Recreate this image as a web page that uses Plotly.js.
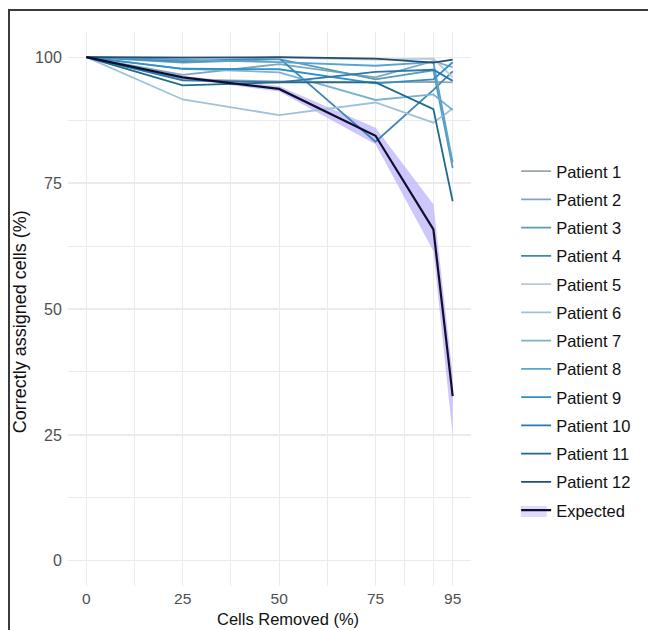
<!DOCTYPE html>
<html>
<head>
<meta charset="utf-8">
<script src="https://cdn.plot.ly/plotly-3.0.1.min.js"></script>
<style>
  html, body { margin: 0; padding: 0; background: #fff; }
  #wrap { position: relative; width: 648px; height: 630px; overflow: hidden; }
  #chart { width: 648px; height: 630px; }
  #frame { position: absolute; left: 8px; top: 9px; width: 700px; height: 700px;
           border-left: 2px solid #3a3a3a; border-top: 2px solid #3a3a3a; pointer-events: none; }
</style>
</head>
<body>
<div id="wrap"><div id="chart"></div><div id="frame"></div></div>
<script>
// ---- data ----
const removed = [0, 25, 50, 75, 90, 95];
const xTickVals = [0, 25, 50, 75, 95];
const yTickVals = [0, 25, 50, 75, 100];
const patientNames = ["Patient 1","Patient 2","Patient 3","Patient 4","Patient 5","Patient 6",
                      "Patient 7","Patient 8","Patient 9","Patient 10","Patient 11","Patient 12"];
const p1  = [100, 95.6, 95.2, 95.0, 95.1, 95.0];
const p2  = [100, 96.5, 98.6, 96.0, 99.2, 98.0];
const p3  = [100, 98.9, 99.6, 95.6, 97.4, 78.0];
const p4  = [100, 99.2, 99.8, 83.2, 93.5, 97.2];
const p5  = [100, 99.9, 99.9, 99.5, 99.7, 96.0];
const p6  = [100, 91.6, 88.5, 91.0, 87.0, 89.8];
const p7  = [100, 97.7, 97.0, 91.5, 92.6, 89.5];
const p8  = [100, 99.5, 99.0, 98.3, 99.0, 79.1];
const p9  = [100, 97.7, 97.6, 94.8, 95.6, 99.0];
const p10 = [100, 95.4, 95.0, 97.1, 97.5, 95.3];
const p11 = [100, 94.4, 95.0, 95.0, 89.7, 71.4];
const p12 = [100, 99.9, 100, 99.7, 98.9, 99.5];
const expected      = [100, 96.0, 93.7, 84.4, 65.8, 32.7];
const expectedUpper = [100, 96.3, 94.3, 86.0, 70.8, 37.0];
const expectedLower = [100, 95.7, 93.2, 82.7, 61.5, 25.0];

const patients = [p1,p2,p3,p4,p5,p6,p7,p8,p9,p10,p11,p12];
const colors = ["#9ba4ad","#7fa7ba","#5b9bb6","#3f87b5","#b9c9dd","#a2c1d9",
                "#7db1d0","#58a3d1","#318fc7","#2978b0","#1f6a8d","#234c70"];
const bandColor = 'rgba(185,175,250,0.7)';

const traces = [];
traces.push({x: removed, y: expectedUpper, type: 'scatter', mode: 'lines',
  line: {width: 0, color: 'rgba(0,0,0,0)'}, showlegend: false, hoverinfo: 'skip'});
traces.push({x: removed, y: expectedLower, type: 'scatter', mode: 'lines', fill: 'tonexty',
  fillcolor: bandColor, line: {width: 0, color: 'rgba(0,0,0,0)'},
  showlegend: false, hoverinfo: 'skip'});
patients.forEach((vals, i) => {
  traces.push({x: removed, y: vals, type: 'scatter', mode: 'lines', name: patientNames[i],
    legendgroup: 'g' + i, line: {color: colors[i], width: 1.8}});
});
traces.push({x: removed, y: expected, type: 'scatter', mode: 'lines', name: 'Expected',
  legendgroup: 'exp', line: {color: '#100e2e', width: 2.2}});

const grid = '#ebebeb';
const layout = {
  width: 648, height: 630,
  margin: {l: 68, r: 175, t: 32, b: 44},
  paper_bgcolor: '#fff', plot_bgcolor: '#fff',
  font: {family: 'Liberation Sans, Arial, sans-serif', color: '#4d4d4d'},
  showlegend: true,
  xaxis: {
    range: [-4.75, 99.75], tickvals: xTickVals, ticktext: xTickVals.map(String),
    showgrid: true, gridcolor: grid, gridwidth: 1.2, zeroline: false, showline: false,
    ticks: '', ticklabelstandoff: 1,
    tickfont: {size: 15.5, color: '#505050'},
    minor: {tickvals: [12.5, 37.5, 62.5, 82.5, 90], showgrid: true, gridcolor: grid, gridwidth: 1, ticks: ''}
  },
  yaxis: {
    range: [-5, 105], tickvals: yTickVals, ticktext: yTickVals.map(String),
    showgrid: true, gridcolor: grid, gridwidth: 1.2, zeroline: false, showline: false,
    ticks: 'outside', ticklen: 2, tickcolor: 'rgba(0,0,0,0)',
    tickfont: {size: 16, color: '#505050'},
    minor: {tickvals: [12.5, 37.5, 62.5, 87.5], showgrid: true, gridcolor: grid, gridwidth: 1, ticks: ''}
  },
  legend: {
    x: 1.112, xanchor: 'left', y: 0.78, yanchor: 'top',
    font: {size: 16.5, color: '#111'}, tracegroupgap: 3.8,
    bgcolor: 'rgba(0,0,0,0)', borderwidth: 0
  },
  shapes: [
    {type: 'rect', xref: 'paper', yref: 'paper', x0: 1.1235, x1: 1.1875, y0: 0.1245, y1: 0.1445,
     fillcolor: 'rgba(185,175,250,0.45)', line: {width: 0}, layer: 'below'}
  ],
  annotations: [
    {text: 'Cells Removed (%)', xref: 'paper', yref: 'paper', x: 0.5457, y: -0.059,
     xanchor: 'center', yanchor: 'middle', showarrow: false, font: {size: 16.5, color: '#111'}},
    {text: 'Correctly assigned cells (%)', xref: 'paper', yref: 'paper', x: -0.1185, y: 0.4765,
     xanchor: 'center', yanchor: 'middle', textangle: -90, showarrow: false, font: {size: 18, color: '#111'}}
  ]
};

Plotly.newPlot('chart', traces, layout, {displayModeBar: false, staticPlot: true});
</script>
</body>
</html>
